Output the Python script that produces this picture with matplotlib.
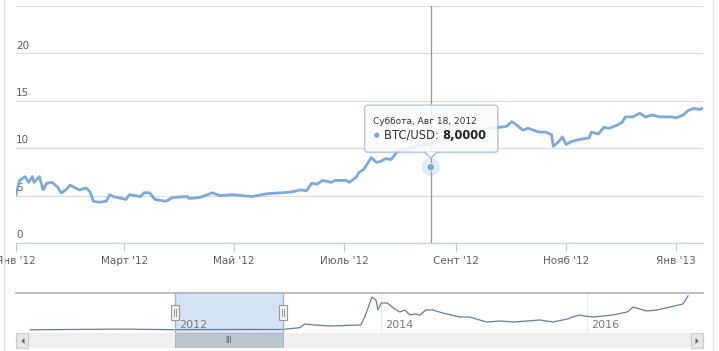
import pandas as pd
import matplotlib
matplotlib.use('Agg')
import matplotlib.pyplot as plt
import matplotlib.dates as mdates
from matplotlib.patches import FancyBboxPatch, Rectangle, Polygon, Circle

# main series: BTC/USD, Jan 2012 - Jan 2013
price_dates = [
    '2012-01-01', '2012-01-03', '2012-01-06', '2012-01-08', '2012-01-10', '2012-01-11',
    '2012-01-14', '2012-01-16', '2012-01-18', '2012-01-21', '2012-01-24', '2012-01-26',
    '2012-01-28', '2012-01-31', '2012-02-03', '2012-02-05', '2012-02-09', '2012-02-11',
    '2012-02-13', '2012-02-16', '2012-02-20', '2012-02-22', '2012-02-24', '2012-03-02',
    '2012-03-04', '2012-03-10', '2012-03-12', '2012-03-15', '2012-03-18', '2012-03-24',
    '2012-03-28', '2012-04-05', '2012-04-06', '2012-04-12', '2012-04-19', '2012-04-23',
    '2012-04-30', '2012-05-11', '2012-05-19', '2012-05-28', '2012-06-02', '2012-06-07',
    '2012-06-10', '2012-06-13', '2012-06-16', '2012-06-19', '2012-06-24', '2012-06-26',
    '2012-07-02', '2012-07-04', '2012-07-08', '2012-07-09', '2012-07-12', '2012-07-16',
    '2012-07-19', '2012-07-21', '2012-07-24', '2012-07-27', '2012-07-31', '2012-08-06',
    '2012-08-11', '2012-08-17', '2012-08-22', '2012-08-28', '2012-09-02', '2012-09-08',
    '2012-09-13', '2012-09-19', '2012-09-25', '2012-09-29', '2012-10-02', '2012-10-05',
    '2012-10-08', '2012-10-11', '2012-10-17', '2012-10-21', '2012-10-24', '2012-10-25',
    '2012-10-28', '2012-10-30', '2012-11-01', '2012-11-04', '2012-11-08', '2012-11-14',
    '2012-11-15', '2012-11-19', '2012-11-22', '2012-11-25', '2012-11-29', '2012-12-02',
    '2012-12-04', '2012-12-08', '2012-12-12', '2012-12-15', '2012-12-19', '2012-12-23',
    '2012-12-30', '2013-01-01', '2013-01-05', '2013-01-08', '2013-01-11', '2013-01-14',
    '2013-01-16',
]
price_values = [
    5.1, 6.6, 7.0, 6.4, 7.0, 6.4,
    7.0, 5.6, 6.3, 6.4, 5.9, 5.3,
    5.5, 6.1, 5.8, 5.6, 5.8, 5.4,
    4.4, 4.3, 4.4, 5.1, 4.9, 4.6,
    5.1, 4.9, 5.3, 5.3, 4.6, 4.4,
    4.8, 4.9, 4.7, 4.8, 5.3, 5.0,
    5.1, 4.9, 5.2, 5.3, 5.4, 5.6,
    5.5, 6.3, 6.2, 6.6, 6.4, 6.6,
    6.6, 6.4, 7.0, 7.4, 7.8, 9.0,
    8.5, 8.6, 8.9, 8.8, 9.8, 10.0,
    10.3, 10.4, 10.8, 10.9, 11.2, 11.5,
    11.9, 12.1, 12.2, 12.3, 12.8, 12.4,
    11.9, 12.1, 11.7, 11.7, 11.4, 10.2,
    10.7, 11.2, 10.4, 10.7, 10.9, 11.1,
    11.7, 11.5, 12.2, 12.1, 12.4, 12.7,
    13.3, 13.3, 13.7, 13.3, 13.5, 13.3,
    13.3, 13.2, 13.5, 14.0, 14.2, 14.1,
    14.2,
]

# navigator series: full history
nav_dates = [
    '2010-08-05', '2011-06-08', '2012-01-01', '2012-08-15', '2013-01-15', '2013-03-18',
    '2013-04-05', '2013-05-10', '2013-07-01', '2013-10-20', '2013-11-03', '2013-11-29',
    '2013-12-13', '2013-12-20', '2014-01-01', '2014-01-22', '2014-02-13', '2014-03-07',
    '2014-03-25', '2014-04-13', '2014-05-01', '2014-05-19', '2014-06-07', '2014-07-02',
    '2014-08-07', '2014-10-07', '2014-11-10', '2014-12-28', '2015-01-12', '2015-02-28',
    '2015-04-13', '2015-07-17', '2015-09-02', '2015-10-23', '2015-11-10', '2015-12-05',
    '2015-12-23', '2016-01-22', '2016-04-01', '2016-05-22', '2016-06-13', '2016-07-05',
    '2016-07-30', '2016-09-05', '2016-10-22', '2016-12-06', '2016-12-24',
]
nav_values = [
    0.1, 25, 5, 12, 14, 76,
    209, 173, 137, 173, 460, 1180,
    1070, 713, 965, 965, 785, 640,
    713, 533, 570, 533, 713, 713,
    605, 460, 460, 317, 281, 317,
    281, 353, 281, 389, 460, 533,
    497, 460, 533, 640, 820, 750,
    677, 713, 820, 930, 1220,
]

y_ticks = [0, 5, 10, 15, 20]
month_ticks = ['2012-01-01', '2012-03-01', '2012-05-01', '2012-07-01',
               '2012-09-01', '2012-11-01', '2013-01-01']
month_labels = ["Янв '12", "Март '12", "Май '12", "Июль '12",
                "Сент '12", "Нояб '12", "Янв '13"]
nav_years = ['2012-01-01', '2014-01-01', '2016-01-01']
nav_year_labels = ['2012', '2014', '2016']

hover_date = '2012-08-18'
hover_value = 8.0
hover_header = 'Суббота, Авг 18, 2012'
series_name = 'BTC/USD'

main_range = ('2012-01-01', '2013-01-16')
nav_range = ('2010-06-15', '2017-02-15')

W, H = 719, 351
LINE = '#7fa9d8'
GRID = '#dcdcdc'
TEXT = '#606060'

plt.rcParams['font.family'] = ['DejaVu Sans']

fig = plt.figure(figsize=(W / 100, H / 100), dpi=100)


def px_axes(x0, y0, x1, y1):
    '''Adds an axes given in pixel coords (origin top-left)'''
    return fig.add_axes([x0 / W, 1 - y1 / H, (x1 - x0) / W, (y1 - y0) / H])


def d(s):
    return mdates.date2num(pd.Timestamp(s))


# ---- main chart ----
ax = px_axes(16, 6, 703, 243)
ax.plot(pd.to_datetime(price_dates), price_values, color=LINE, lw=2.0,
        solid_joinstyle='round', zorder=3)
ax.set_xlim(d(main_range[0]), d(main_range[1]))
ax.set_ylim(0, 25)
for v in y_ticks + [25]:
    ax.axhline(v, color=GRID, lw=0.9, zorder=1)
for v in y_ticks:
    ax.annotate(str(v), (0, v), xycoords=('axes fraction', 'data'),
                xytext=(0, 2), textcoords='offset points',
                fontsize=7.5, color=TEXT, va='bottom', ha='left', zorder=2)
ax.set_yticks([])
ax.set_xticks([d(t) for t in month_ticks])
ax.set_xticklabels(month_labels, fontsize=7.5, color=TEXT)
ax.tick_params(axis='x', length=6, width=0.9, color='#c0d0e0', pad=3)
for side in ['top', 'right', 'left']:
    ax.spines[side].set_visible(False)
ax.spines['bottom'].set_color('#c0d0e0')
ax.spines['bottom'].set_linewidth(0.9)
for lbl in ax.get_xticklabels():
    lbl.set_clip_on(False)

ax.axvline(d(hover_date), color='#9a9a9a', lw=0.9, zorder=4)

# ---- navigator ----
nav = px_axes(16, 293, 703, 333)
nav.plot(pd.to_datetime(nav_dates), nav_values, color='#6a7d94', lw=0.9, zorder=3)
nav.set_xlim(d(nav_range[0]), d(nav_range[1]))
nav.set_ylim(-115, 1325)
nav.axis('off')
nav.axhline(1325, color='#b0b0b0', lw=1.2, clip_on=False)
for t, lab in zip(nav_years, nav_year_labels):
    nav.axvline(d(t), color='#ececec', lw=0.8, zorder=1)
    nav.annotate(lab, (d(t), 0), xycoords=('data', 'axes fraction'),
                 xytext=(3, 2), textcoords='offset points',
                 fontsize=8, color='#7a7a7a', ha='left', va='bottom', zorder=5)
nav.axvspan(d(main_range[0]), d(main_range[1]), color='#cfdff3', alpha=0.85, zorder=2)
for edge in main_range:
    nav.axvline(d(edge), color='#a8b4c4', lw=0.9, zorder=4)
nav.plot([d(main_range[0]), d(main_range[1])], [1325, 1325], color='#a8b4c4', lw=1.2, zorder=4)

# ---- scrollbar ----
sb = px_axes(16, 333, 703, 348)
sb.set_xlim(d(nav_range[0]), d(nav_range[1]))
sb.set_ylim(0, 1)
sb.axis('off')
sb.add_patch(Rectangle((0, 0), 1, 1, transform=sb.transAxes, facecolor='#efefef',
                       edgecolor='none'))
sb.add_patch(Rectangle((d(main_range[0]), 0), d(main_range[1]) - d(main_range[0]), 1,
                       facecolor='#bcc4ce', edgecolor='#aab2bc', lw=0.6, zorder=3))
mid = (d(main_range[0]) + d(main_range[1])) / 2
sb.text(mid, 0.5, 'III', fontsize=5.5, color='#555555', ha='center', va='center', zorder=4)

# ---- overlay in pixel coords ----
ov = fig.add_axes([0, 0, 1, 1], zorder=10)
ov.set_xlim(0, W)
ov.set_ylim(H, 0)
ov.axis('off')
ov.patch.set_alpha(0)

# outer frame lines
ov.plot([4, 4], [0, H], color='#e4e4e4', lw=1)
ov.plot([713, 713], [0, H], color='#e4e4e4', lw=1)

# scrollbar buttons
for bx, tri in [(16, [(24.5, 338), (24.5, 344), (21.5, 341)]),
                (691, [(695.5, 338), (695.5, 344), (698.5, 341)])]:
    ov.add_patch(Rectangle((bx, 333), 12, 15, facecolor='#e6e6e6', edgecolor='#cccccc',
                           lw=0.8, zorder=5))
    ov.add_patch(Polygon(tri, closed=True, facecolor='#666666', edgecolor='none', zorder=6))

# navigator handles
nav_to_px = lambda v: nav.transData.transform((v, 0))[0]
for edge in main_range:
    hx = nav_to_px(d(edge))
    ov.add_patch(Rectangle((hx - 4, 305), 8, 15, facecolor='#f2f2f2', edgecolor='#999999',
                           lw=0.8, zorder=6))
    ov.plot([hx - 1, hx - 1], [309, 316], color='#999999', lw=0.7, zorder=7)
    ov.plot([hx + 1, hx + 1], [309, 316], color='#999999', lw=0.7, zorder=7)

# hovered point + tooltip
px, py = ax.transData.transform((d(hover_date), hover_value))
py = H - py
ov.add_patch(Circle((px, py), 9, facecolor=LINE, alpha=0.22, edgecolor='none', zorder=6))
ov.add_patch(Circle((px, py), 3.8, facecolor=LINE, edgecolor='white', lw=0.6, zorder=7))

bx0, bx1, by0, by1 = px - 66, px + 67, py - 62, py - 15
ov.add_patch(FancyBboxPatch((bx0 + 1.5, by0 + 1.5), bx1 - bx0, by1 - by0,
                            boxstyle='round,pad=0,rounding_size=3',
                            facecolor='#000000', alpha=0.06, edgecolor='none', zorder=7))
ov.add_patch(FancyBboxPatch((bx0, by0), bx1 - bx0, by1 - by0,
                            boxstyle='round,pad=0,rounding_size=3',
                            facecolor='white', alpha=0.85, edgecolor='#a9bfd8', lw=1.0,
                            zorder=8))
ov.add_patch(Polygon([(px - 6, by1 - 0.6), (px + 6, by1 - 0.6), (px, py - 9)], closed=True,
                     facecolor='white', alpha=0.9, edgecolor='none', zorder=9))
ov.plot([px - 6, px, px + 6], [by1, py - 9, by1], color='#a9bfd8', lw=1.0, zorder=9)
ov.text(bx0 + 8, by0 + 16, hover_header, fontsize=6.5, color='#333333',
        ha='left', va='center', zorder=10)
ov.add_patch(Circle((bx0 + 12, by0 + 30), 2.6, facecolor=LINE, edgecolor='none', zorder=10))
t1 = ov.text(bx0 + 19, by0 + 30, series_name + ': ', fontsize=8.3, color='#333333',
             ha='left', va='center', zorder=10)
ov.annotate(f'{hover_value:.4f}'.replace('.', ','), xycoords=t1, xy=(1, 0.5),
            fontsize=8.3, fontweight='bold', color='#222222', ha='left', va='center',
            zorder=10)

fig.savefig('out.png', dpi=100)
